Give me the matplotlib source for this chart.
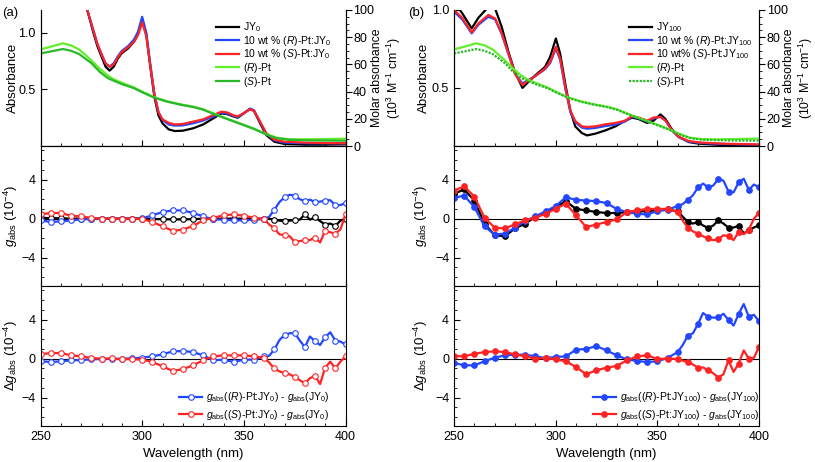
import numpy as np
import matplotlib
matplotlib.use('Agg')
import matplotlib.pyplot as plt
from matplotlib.ticker import MultipleLocator

plt.rcParams['font.family'] = ['Liberation Sans', 'DejaVu Sans']
plt.rcParams['mathtext.fontset'] = 'custom'
plt.rcParams['mathtext.rm'] = 'Liberation Sans'
plt.rcParams['mathtext.it'] = 'Liberation Sans:italic'
plt.rcParams['mathtext.bf'] = 'Liberation Sans:bold'

# ---- absorbance, panel (a) ----
wl_ta = [262, 266, 270, 273, 276, 278, 280, 282, 284, 286, 288, 290, 293, 296, 298, 300, 302, 304, 306,
         308, 310, 313, 316, 320, 325, 330, 335, 339, 342, 345, 347, 350, 353, 355, 358, 361, 365, 370,
         380, 390, 400]
abs_jy0 = [2.0, 1.65, 1.35, 1.2, 1.0, 0.88, 0.79, 0.70, 0.665, 0.70, 0.77, 0.82, 0.86, 0.92, 0.99, 1.12,
           0.99, 0.70, 0.435, 0.27, 0.20, 0.147, 0.132, 0.135, 0.156, 0.19, 0.244, 0.288, 0.28, 0.26,
           0.25, 0.288, 0.326, 0.31, 0.20, 0.097, 0.038, 0.018, 0.012, 0.012, 0.015]
abs_r_jy0 = [2.0, 1.65, 1.35, 1.2, 1.02, 0.9, 0.81, 0.73, 0.70, 0.73, 0.79, 0.84, 0.88, 0.94, 1.01, 1.14,
             1.0, 0.72, 0.46, 0.30, 0.23, 0.19, 0.18, 0.182, 0.2, 0.225, 0.26, 0.295, 0.285, 0.265,
             0.255, 0.29, 0.33, 0.315, 0.21, 0.11, 0.05, 0.03, 0.025, 0.024, 0.024]
abs_s_jy0 = [2.0, 1.65, 1.35, 1.2, 1.02, 0.9, 0.81, 0.73, 0.70, 0.72, 0.78, 0.83, 0.87, 0.92, 0.98, 1.09,
             0.97, 0.71, 0.46, 0.30, 0.235, 0.205, 0.19, 0.194, 0.215, 0.235, 0.274, 0.303, 0.295, 0.27,
             0.262, 0.29, 0.325, 0.31, 0.215, 0.115, 0.055, 0.038, 0.03, 0.026, 0.024]

# ---- absorbance, panel (b) ----
wl_tb = [250, 254, 258.7, 262, 266.9, 270.2, 273.5, 276.8, 280, 283.7, 285.8, 289.9, 294.8, 297.3, 300.1,
         302.2, 304.7, 307.2, 309.6, 312.9, 315.4, 319.5, 324.4, 329.4, 334.3, 337.6, 340.8, 345, 348.2,
         351.5, 354, 357.3, 360.6, 365.5, 370.4, 382, 400]
abs_jy100 = [1.05, 0.98, 0.882, 0.95, 1.02, 1.01, 0.89, 0.73, 0.60, 0.50, 0.528, 0.58, 0.635, 0.70, 0.817,
             0.72, 0.528, 0.356, 0.253, 0.21, 0.195, 0.206, 0.227, 0.253, 0.29, 0.309, 0.30, 0.275, 0.29,
             0.33, 0.30, 0.232, 0.185, 0.152, 0.142, 0.133, 0.127]
abs_r_jy100 = [0.99, 0.94, 0.85, 0.905, 0.957, 0.94, 0.845, 0.715, 0.59, 0.528, 0.545, 0.575, 0.62, 0.66,
               0.753, 0.68, 0.5, 0.345, 0.28, 0.245, 0.238, 0.243, 0.255, 0.265, 0.285, 0.315, 0.305,
               0.285, 0.305, 0.315, 0.29, 0.225, 0.183, 0.155, 0.147, 0.14, 0.135]
abs_s_jy100 = [1.0, 0.95, 0.856, 0.914, 0.968, 0.946, 0.85, 0.72, 0.59, 0.517, 0.54, 0.575, 0.625, 0.667,
               0.764, 0.69, 0.506, 0.356, 0.288, 0.253, 0.249, 0.253, 0.266, 0.275, 0.29, 0.32, 0.31,
               0.29, 0.31, 0.313, 0.29, 0.227, 0.185, 0.159, 0.15, 0.142, 0.137]

# ---- molar absorbance of Pt complexes (10^3 M-1 cm-1) ----
wl_pt = [250, 255, 261, 265, 269, 275, 279, 283, 286, 290, 296, 300, 306, 312, 319, 325, 330, 337, 342,
         348, 355, 361, 366, 372, 378, 385, 392, 400]
eps_r = [71, 73, 75.5, 74, 71, 63, 57, 52, 49, 46.5, 43, 40, 35.8, 33, 30.6, 29, 27, 22.8, 20, 16.7,
         12.8, 8.8, 6.1, 5.0, 4.9, 5.0, 5.2, 5.4]
eps_s = [68, 69.5, 71.3, 70, 67.6, 61, 54.7, 50, 48, 45.5, 42.5, 39.5, 35.5, 32.7, 30.3, 28.7, 26.7,
         22.5, 19.7, 16.4, 12.5, 8.5, 5.8, 4.6, 4.3, 4.1, 4.0, 3.9]

# ---- g_abs (10^-4) ----
wl_g = np.r_[250:361:5, 362.5:401:2.5]
g_jy0 = [0.1, 0.05, 0.05, 0, 0, 0, 0, 0, 0, 0, 0, -0.03, -0.05, -0.07, -0.07, -0.05, 0, 0, 0, 0, 0, 0, 0,
         0, -0.1, -0.2, -0.25, -0.2, -0.15, -0.1, 0.45, -0.1, 0.15, -0.25, -0.6, -0.5, -0.75, -0.2, 0]
g_r_jy0 = [-0.17, -0.34, -0.27, -0.17, -0.07, -0.03, 0, 0, 0, 0, 0.03, 0.34, 0.68, 0.85, 0.85, 0.58, 0.24,
           -0.07, -0.1, -0.17, -0.17, -0.1, -0.03,
           0.2, 0.92, 1.7, 2.2, 2.45, 2.37, 2.0, 1.8, 1.95, 1.7, 1.75, 1.86, 1.9, 1.36, 1.4, 1.6]
g_s_jy0 = [0.44, 0.58, 0.58, 0.3, 0.24, 0.07, 0, 0, 0, 0, -0.03, -0.34, -0.78, -1.25, -1.12, -0.75, -0.17,
           0.1, 0.34, 0.44, 0.3, 0.1, -0.07,
           -0.6, -1.0, -1.6, -1.7, -1.8, -2.37, -2.3, -2.2, -2.2, -1.93, -2.44, -1.25, -1.4, -1.53, -1.1, 0.44]

g_jy100 = [2.54, 3.0, 1.86, -0.5, -1.7, -1.8, -1.0, -0.5, 0.17, 0.58, 1.19, 1.8, 1.0, 0.85, 0.68, 0.58,
           0.58, 0.68, 0.72, 0.78, 0.85, 0.95, 0.75,
           0.2, -0.34, -0.5, -0.34, -0.7, -0.95, -0.7, -0.17, -0.5, -0.92, -0.9, -0.75, -1.5, -1.2, -0.9, -0.68]
g_r_jy100 = [2.13, 2.37, 1.19, -0.78, -1.63, -1.53, -0.92, -0.24, 0.24, 0.75, 1.29, 2.2, 1.93, 1.86, 1.8,
             1.6, 1.0, 0.68, 0.5, 0.44, 0.78, 0.92, 1.29,
             1.5, 1.93, 2.4, 3.2, 3.6, 3.2, 3.4, 4.07, 3.9, 2.78, 2.7, 3.73, 4.1, 2.95, 3.5, 3.22]
g_s_jy100 = [2.88, 3.3, 2.27, 0.1, -0.92, -1.0, -0.58, -0.17, 0.1, 0.5, 1.0, 1.55, 0.34, -0.85, -0.6, -0.34,
             -0.07, 0.68, 0.85, 1.0, 1.0, 1.0, 0.68,
             -0.2, -0.92, -1.3, -1.53, -1.8, -2.03, -2.2, -2.1, -1.7, -1.8, -2.2, -1.36, -1.6, -1.12, 0.0, 0.58]

# ---- delta g_abs (10^-4) ----
dg_r_jy0 = [-0.27, -0.34, -0.27, -0.17, -0.14, -0.07, -0.03, -0.03, 0, 0.03, 0.1, 0.24, 0.44, 0.75, 0.78,
            0.68, 0.34, -0.17, -0.1, -0.34, -0.1, -0.1, 0.24,
            0.3, 0.95, 1.9, 2.44, 2.6, 2.64, 1.86, 1.19, 2.27, 1.8, 1.4, 2.2, 2.71, 1.86, 1.75, 1.46]
dg_s_jy0 = [0.44, 0.58, 0.58, 0.34, 0.24, 0.07, 0, 0.03, -0.07, -0.03, -0.1, -0.34, -0.78, -1.25, -1.08,
            -0.68, -0.17, 0.24, 0.34, 0.34, 0.34, 0.24, 0.1,
            -0.4, -1.0, -1.3, -1.46, -1.6, -1.86, -2.2, -2.54, -2.0, -1.76, -2.6, -0.92, -0.3, -1.0, -0.3, 0.24]
dg_r_jy100 = [-0.44, -0.68, -0.68, -0.27, 0.1, 0.34, 0.41, 0.41, 0.24, 0.07, 0.17, 0.24, 0.92, 1.0, 1.29,
              0.85, 0.34, -0.07, -0.24, -0.34, -0.27, 0.07, 0.68,
              1.4, 2.37, 2.6, 3.56, 4.68, 4.3, 4.2, 4.24, 4.6, 3.97, 3.39, 4.58, 5.6, 4.3, 4.5, 3.83]
dg_s_jy100 = [0.27, 0.24, 0.5, 0.68, 0.75, 0.68, 0.44, 0.24, 0, 0.07, -0.07, -0.27, -0.85, -1.6, -1.19,
              -0.92, -0.75, -0.17, 0.24, 0.34, -0.03, 0, -0.03,
              -0.2, -0.34, -0.6, -0.92, -0.9, -1.19, -1.5, -1.93, -1.6, -0.17, -1.36, -0.5, 0.85, 0, 0.1, 1.19]

BLUE = '#2346ff'
RED = '#ff2323'
LGREEN = '#62ee2a'
DGREEN = '#2cb82c'

fig = plt.figure(figsize=(8.15, 4.62), dpi=100)

lefts = [40.5 / 815, 454 / 815]
width = 305 / 815
ax_top = [fig.add_axes([l, 1 - 146 / 462, width, 136 / 462]) for l in lefts]
ax_mid = [fig.add_axes([l, 1 - 286 / 462, width, 140 / 462]) for l in lefts]
ax_bot = [fig.add_axes([l, 1 - 426 / 462, width, 140 / 462]) for l in lefts]
lab_x = [-0.067, -0.079]

mk = [i for i, w in enumerate(wl_g) if w % 5 == 0]


def style_x(ax, labels):
    ax.set_xlim(250, 400)
    ax.xaxis.set_major_locator(MultipleLocator(50))
    ax.xaxis.set_minor_locator(MultipleLocator(10))
    ax.tick_params(axis='x', which='both', direction='in', labelbottom=labels, labelsize=9)
    ax.tick_params(axis='x', which='major', length=4)
    ax.tick_params(axis='x', which='minor', length=2)


# top panels
tops = [(wl_ta, abs_jy0, abs_r_jy0, abs_s_jy0, (0, 1.2), '0', '10 wt %', -0.07, 1.085),
        (wl_tb, abs_jy100, abs_r_jy100, abs_s_jy100, (0.127, 1.0), '{100}', '10 wt%', -0.079, 1.078)]
for k, (ax, (wl, yk, yr, ys, ylim, sub, wt, lx, rx)) in enumerate(zip(ax_top, tops)):
    axr = ax.twinx()
    jy = 'JY$_' + sub + '$'
    l1, = ax.plot(wl, yk, color='k', lw=1.6, label=jy)
    l2, = ax.plot(wl, yr, color=BLUE, lw=1.6, label='10 wt % ($R$)-Pt:' + jy)
    l3, = ax.plot(wl, ys, color=RED, lw=1.6, label=wt + ' ($S$)-Pt:' + jy)
    l4, = axr.plot(wl_pt, eps_r, color=LGREEN, lw=1.6, label='($R$)-Pt')
    ls_s = '-' if k == 0 else (0, (1, 0.6))
    l5, = axr.plot(wl_pt, eps_s, color=DGREEN, lw=1.6, ls=ls_s, label='($S$)-Pt')
    ax.set_ylim(*ylim)
    axr.set_ylim(0, 100)
    ax.set_yticks([0.5, 1.0])
    ax.set_yticklabels(['0.5', '1.0'])
    ax.tick_params(axis='y', direction='in', labelsize=9, length=4)
    axr.yaxis.set_major_locator(MultipleLocator(20))
    axr.yaxis.set_minor_locator(MultipleLocator(5))
    axr.tick_params(axis='y', which='major', direction='out', labelsize=9, length=4, pad=1.5)
    axr.tick_params(axis='y', which='minor', direction='out', length=2)
    for a in (ax, axr):
        a.spines['top'].set_visible(False)
    style_x(ax, False)
    ax.set_ylabel('Absorbance', fontsize=9.5)
    ax.yaxis.set_label_coords(lx, 0.5)
    axr.set_ylabel('Molar absorbance\n(10$^3$ M$^{-1}$ cm$^{-1}$)', fontsize=8.8, linespacing=1.12)
    axr.yaxis.set_label_coords(rx, 0.5)
    ax.legend(handles=[l1, l2, l3, l4, l5], loc='upper left', bbox_to_anchor=(0.575, 0.925),
              frameon=False, fontsize=7.5, handlelength=2.2, handletextpad=0.4, labelspacing=-0.03,
              borderaxespad=0, borderpad=0)

# g_abs panels
mids = [(g_jy0, g_r_jy0, g_s_jy0, 'white'), (g_jy100, g_r_jy100, g_s_jy100, None)]
for ax, (gk, gr, gs, face) in zip(ax_mid, mids):
    for y, c in ((gk, 'k'), (gr, BLUE), (gs, RED)):
        ax.plot(wl_g, y, color=c, lw=1.6, marker='o', ms=4, markevery=mk,
                mfc=face if face else c, mec=c, mew=0.8)
    ax.axhline(0, color='k', lw=0.8, zorder=0)

# delta g_abs panels
bots = [(dg_r_jy0, dg_s_jy0, 'white', '0'), (dg_r_jy100, dg_s_jy100, None, '{100}')]
for ax, (dr, ds, face, sub) in zip(ax_bot, bots):
    for y, c, en in ((dr, BLUE, 'R'), (ds, RED, 'S')):
        lab = (r'$g_{\mathrm{abs}}$(($' + en + '$)-Pt:JY$_' + sub + r'$) - $g_{\mathrm{abs}}$(JY$_'
               + sub + '$)')
        ax.plot(wl_g, y, color=c, lw=1.6, marker='o', ms=4, markevery=mk,
                mfc=face if face else c, mec=c, mew=0.8, label=lab)
    ax.axhline(0, color='k', lw=0.8, zorder=0)
    ax.legend(loc='lower left', bbox_to_anchor=(0.455, 0.03), frameon=False, fontsize=7.5,
              handlelength=2.2, handletextpad=0.4, labelspacing=0.35, borderaxespad=0, borderpad=0)

for ax in ax_mid + ax_bot:
    ax.set_ylim(-6.9, 7.45)
    ax.yaxis.set_major_locator(MultipleLocator(4))
    ax.yaxis.set_minor_locator(MultipleLocator(1))
    ax.tick_params(axis='y', which='both', direction='in', labelsize=9)
    ax.tick_params(axis='y', which='major', length=4)
    ax.tick_params(axis='y', which='minor', length=2)
    style_x(ax, ax in ax_bot)

for ax, lx in zip(ax_mid, lab_x):
    ax.set_ylabel(r'$g_{\mathrm{abs}}$ (10$^{-4}$)', fontsize=9.5)
    ax.yaxis.set_label_coords(lx, 0.5)
for ax, lx in zip(ax_bot, lab_x):
    ax.set_ylabel(r'$\Delta g_{\mathrm{abs}}$ (10$^{-4}$)', fontsize=9.5)
    ax.yaxis.set_label_coords(lx, 0.5)
    ax.set_xlabel('Wavelength (nm)', fontsize=9.5)

fig.text(0.003, 0.985, '(a)', fontsize=9.5, va='top')
fig.text(408 / 815, 0.985, '(b)', fontsize=9.5, va='top')

fig.savefig('out.png', dpi=100)
